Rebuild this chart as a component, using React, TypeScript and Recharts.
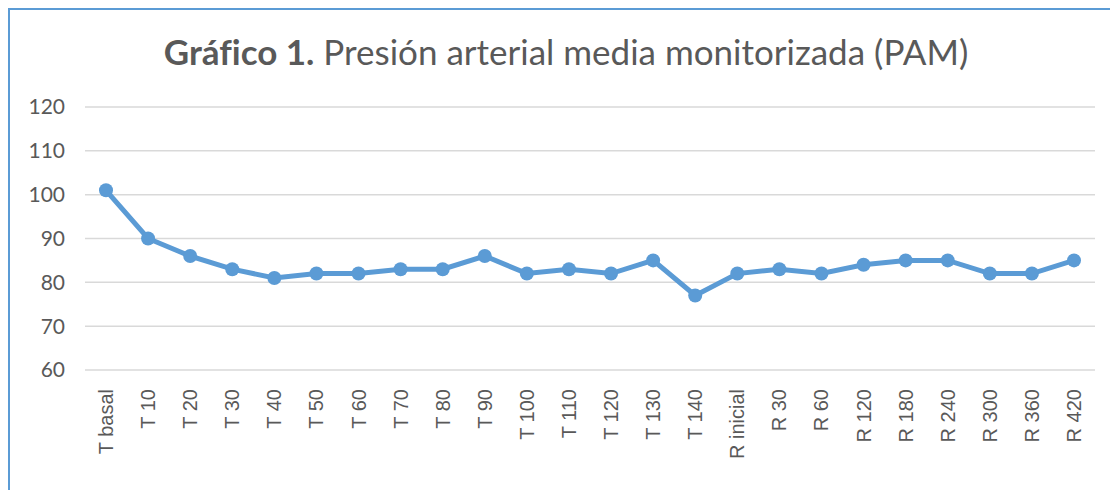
import React from "react";
import { LineChart, Line, XAxis, YAxis, CartesianGrid } from "recharts";

const categories = [
  "T basal", "T 10", "T 20", "T 30", "T 40", "T 50", "T 60", "T 70",
  "T 80", "T 90", "T 100", "T 110", "T 120", "T 130", "T 140",
  "R inicial", "R 30", "R 60", "R 120", "R 180", "R 240", "R 300", "R 360", "R 420",
];
const pamValues = [
  101, 90, 86, 83, 81, 82, 82, 83, 83, 86, 82, 83, 82, 85, 77,
  82, 83, 82, 84, 85, 85, 82, 82, 85,
];
const yTicks = [60, 70, 80, 90, 100, 110, 120];

const data = categories.map((name, i) => ({ name, pam: pamValues[i] }));

const TEXT = "#595959";
const BLUE = "#5B9BD5";

function XTick(props: any) {
  const { x, y, payload } = props;
  return (
    <text
      x={x}
      y={y}
      dy="0.35em"
      transform={`rotate(-90, ${x}, ${y})`}
      textAnchor="end"
      fill={TEXT}
      fontSize={20}
      fontFamily="'Liberation Sans', Arial, sans-serif"
    >
      {payload.value}
    </text>
  );
}

export default function App() {
  return (
    <div
      style={{
        position: "relative",
        width: 1110,
        height: 482,
        borderTop: `2px solid ${BLUE}`,
        borderLeft: `2px solid ${BLUE}`,
        boxSizing: "border-box",
        background: "#fff",
        overflow: "hidden",
      }}
    >
      <div
        style={{
          position: "absolute",
          top: 20,
          left: 0,
          width: 1112,
          textAlign: "center",
          fontFamily: "Lato, 'Open Sans', sans-serif",
          fontSize: 35,
          fontVariantLigatures: "none",
          color: TEXT,
          whiteSpace: "nowrap",
        }}
      >
        <b>Gráfico 1.</b> Presión arterial media monitorizada (PAM)
      </div>
      <div style={{ position: "absolute", top: -2, left: -2 }}>
        <LineChart
          width={1110}
          height={482}
          data={data}
          margin={{ top: 99, right: 23, bottom: 0, left: 0 }}
        >
          <CartesianGrid vertical={false} stroke="#d9d9d9" strokeWidth={1.5} />
          <XAxis
            dataKey="name"
            interval={0}
            axisLine={false}
            tickLine={false}
            height={120}
            padding={{ left: 21, right: 21 }}
            tick={<XTick />}
            tickMargin={13}
          />
          <YAxis
            domain={[60, 120]}
            ticks={yTicks}
            axisLine={false}
            tickLine={false}
            width={77}
            tickMargin={14}
            tick={{ fill: TEXT, fontSize: 21, fontFamily: "Lato, 'Open Sans', sans-serif" }}
          />
          <Line
            dataKey="pam"
            stroke={BLUE}
            strokeWidth={5}
            dot={{ r: 7, fill: BLUE, stroke: "none" }}
            isAnimationActive={false}
          />
        </LineChart>
      </div>
    </div>
  );
}
